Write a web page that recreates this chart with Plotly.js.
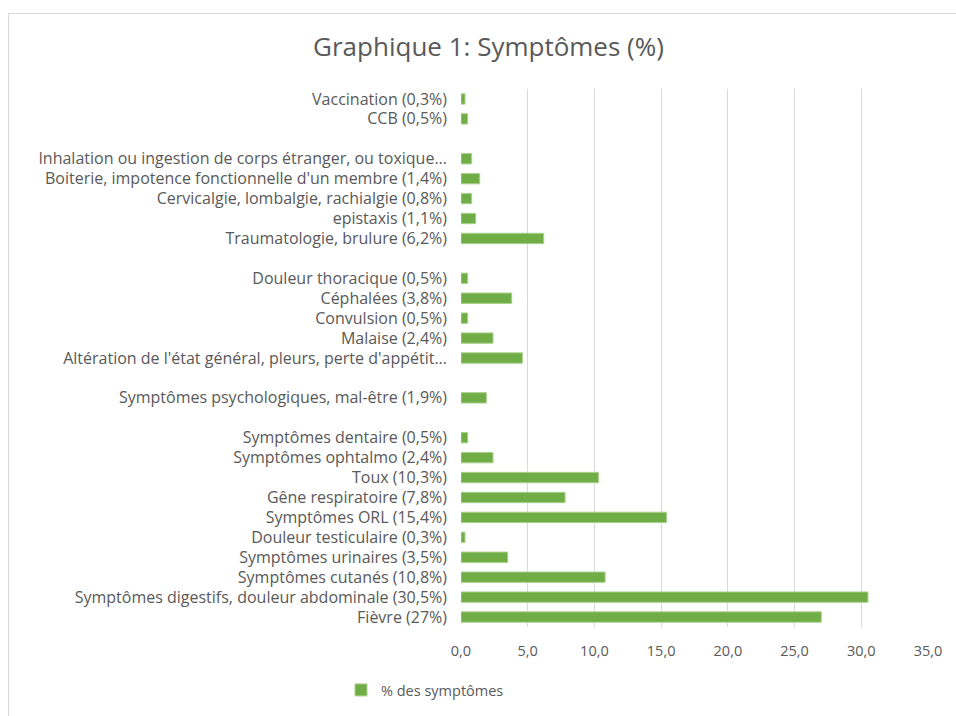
<!DOCTYPE html>
<html>
<head>
<meta charset="utf-8">
<script src="https://cdn.plot.ly/plotly-3.0.1.min.js"></script>
<style>
  html, body { margin: 0; padding: 0; background: #ffffff; overflow: hidden; }
  #frame { position: absolute; left: 8px; top: 13px; width: 1000px; height: 800px; border: 1px solid #d9d9d9; box-sizing: border-box; }
  #chart { position: absolute; left: 0; top: 0; width: 956px; height: 716px; }
</style>
</head>
<body>
<div id="frame"></div>
<div id="chart"></div>
<script>
// Categories from bottom to top; empty strings are blank slots in the original chart
const categories = [
  "Fièvre (27%)",
  "Symptômes digestifs, douleur abdominale (30,5%)",
  "Symptômes cutanés (10,8%)",
  "Symptômes urinaires (3,5%)",
  "Douleur testiculaire (0,3%)",
  "Symptômes ORL (15,4%)",
  "Gêne respiratoire (7,8%)",
  "Toux (10,3%)",
  "Symptômes ophtalmo (2,4%)",
  "Symptômes dentaire (0,5%)",
  "",
  "Symptômes psychologiques, mal-être (1,9%)",
  "",
  "Altération de l'état général, pleurs, perte d'appétit...",
  "Malaise (2,4%)",
  "Convulsion (0,5%)",
  "Céphalées (3,8%)",
  "Douleur thoracique (0,5%)",
  "",
  "Traumatologie, brulure (6,2%)",
  "epistaxis (1,1%)",
  "Cervicalgie, lombalgie, rachialgie (0,8%)",
  "Boiterie, impotence fonctionnelle d'un membre (1,4%)",
  "Inhalation ou ingestion de corps étranger, ou toxique...",
  "",
  "CCB (0,5%)",
  "Vaccination (0,3%)"
];
const values = [
  27.0, 30.5, 10.8, 3.5, 0.3, 15.4, 7.8, 10.3, 2.4, 0.5,
  null,
  1.9,
  null,
  4.6, 2.4, 0.5, 3.8, 0.5,
  null,
  6.2, 1.1, 0.8, 1.4, 0.8,
  null,
  0.5, 0.3
];
const xTicks = [0, 5, 10, 15, 20, 25, 30, 35];
const seriesName = "% des symptômes";
const chartTitle = "Graphique 1: Symptômes (%)";

const positions = categories.map((_, i) => i);

const trace = {
  type: 'bar',
  orientation: 'h',
  name: seriesName,
  x: values,
  y: positions,
  marker: { color: '#70ad47', line: { color: '#a9d18e', width: 1 } },
  hoverinfo: 'x'
};

const font = "Open Sans, sans-serif";
const layout = {
  width: 956,
  height: 716,
  margin: { l: 461, r: 28, t: 89, b: 89 },
  paper_bgcolor: 'rgba(0,0,0,0)',
  plot_bgcolor: 'rgba(0,0,0,0)',
  separators: ', ',
  bargap: 0.48,
  font: { family: font, color: '#595959', size: 14 },
  title: {
    text: chartTitle,
    font: { family: font, size: 26, color: '#595959' },
    xref: 'container', x: 0.511, xanchor: 'center',
    yref: 'container', y: 1 - 47 / 716, yanchor: 'middle'
  },
  xaxis: {
    range: [0, 35],
    tickvals: xTicks,
    tickformat: '.1f',
    showgrid: true,
    gridcolor: '#d9d9d9',
    gridwidth: 1,
    zeroline: false,
    showline: false,
    ticks: '',
    ticklabelstandoff: 13,
    tickfont: { family: font, size: 14.5, color: '#595959' },
    fixedrange: true
  },
  yaxis: {
    type: 'linear',
    range: [-0.5, categories.length - 0.5],
    tickvals: positions,
    ticktext: categories,
    showgrid: false,
    zeroline: false,
    showline: false,
    ticks: '',
    ticklabelstandoff: 13,
    tickfont: { family: font, size: 16, color: '#595959' },
    fixedrange: true
  },
  showlegend: true,
  legend: {
    orientation: 'h',
    xref: 'container', x: 425 / 956, xanchor: 'center',
    yref: 'container', y: 1 - 690 / 716, yanchor: 'middle',
    font: { family: font, size: 14.5, color: '#595959' },
    itemwidth: 30
  }
};

Plotly.newPlot('chart', [trace], layout, { displayModeBar: false, staticPlot: true });
</script>
</body>
</html>
